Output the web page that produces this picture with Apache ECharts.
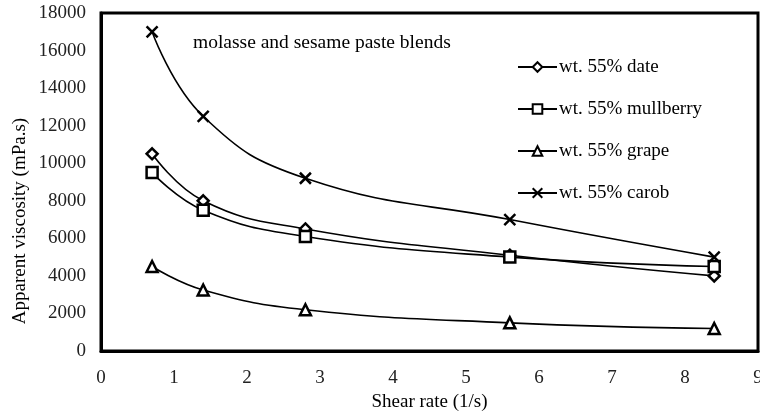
<!DOCTYPE html>
<html>
<head>
<meta charset="utf-8">
<script src="https://cdn.jsdelivr.net/npm/echarts@6/dist/echarts.min.js"></script>
<style>
  html, body { margin: 0; padding: 0; background: #fff; }
  #container { width: 760px; height: 412px; }
</style>
</head>
<body>
<div id="container"></div>
<script>
'use strict';
var shearRate = [0.7, 1.4, 2.8, 5.6, 8.4];
var seriesNames = ['wt. 55% date', 'wt. 55% mullberry', 'wt. 55% grape', 'wt. 55% carob'];
var dateVals = [10500, 8000, 6500, 5100, 4000];
var mullberryVals = [9500, 7500, 6100, 5000, 4500];
var grapeVals = [4500, 3250, 2200, 1500, 1200];
var carobVals = [17000, 12500, 9200, 7000, 5000];
var symbols = ['diamond', 'rect', 'triangle', 'path://M0,0L10,10M10,0L0,10'];
var symbolSizes = [11, 11, 11, 11];

var font = 'Liberation Serif';
var dom = document.getElementById('container');
var myChart = echarts.init(dom);

function pairs(vals) {
    return vals.map(function (v, i) { return [shearRate[i], v]; });
}

var allVals = [dateVals, mullberryVals, grapeVals, carobVals];
var series = allVals.map(function (vals, idx) {
    return {
        name: seriesNames[idx],
        type: 'line',
        smooth: 0.45,
        data: pairs(vals),
        symbol: symbols[idx],
        symbolSize: symbolSizes[idx],
        showAllSymbol: true,
        lineStyle: { color: '#000', width: 1.6 },
        itemStyle: { color: idx === 3 ? 'none' : '#fff', borderColor: '#000', borderWidth: 2.5 },
        emphasis: { disabled: true },
        z: 3
    };
});

var option = {
    animation: false,
    backgroundColor: '#fff',
    title: {
        text: 'molasse and sesame paste blends',
        left: 188,
        top: 28,
        textStyle: { fontFamily: font, fontSize: 19.5, fontWeight: 'normal', color: '#000' }
    },
    legend: {
        orient: 'vertical',
        left: 512,
        top: 52,
        itemWidth: 39,
        itemHeight: 12,
        itemGap: 22,
        data: seriesNames,
        textStyle: { fontFamily: font, fontSize: 19, lineHeight: 20, color: '#000', padding: [0, 0, 0, -3] }
    },
    grid: {
        left: 101,
        right: 2,
        top: 13,
        bottom: 61,
        show: true,
        borderColor: '#000',
        borderWidth: 3,
        containLabel: false,
        outerBoundsMode: 'none'
    },
    graphic: [{
        type: 'text',
        x: 20,
        y: 221,
        rotation: Math.PI / 2,
        style: {
            text: 'Apparent viscosity (mPa.s)',
            fontFamily: font,
            fontSize: 19,
            fill: '#000',
            align: 'center',
            verticalAlign: 'middle'
        }
    }],
    xAxis: {
        type: 'value',
        min: 0,
        max: 9,
        interval: 1,
        name: 'Shear rate (1/s)',
        nameLocation: 'middle',
        nameGap: 40,
        nameTextStyle: { fontFamily: font, fontSize: 19, color: '#000' },
        axisLine: { show: true, lineStyle: { color: '#000', width: 3 } },
        axisTick: { show: false },
        splitLine: { show: false },
        axisLabel: { fontFamily: font, fontSize: 19, color: '#222', margin: 18 }
    },
    yAxis: {
        type: 'value',
        min: 0,
        max: 18000,
        interval: 2000,
        axisLine: { show: true, lineStyle: { color: '#000', width: 3 } },
        axisTick: { show: false },
        splitLine: { show: false },
        axisLabel: {
            fontFamily: font, fontSize: 19, color: '#222', margin: 15,
            formatter: function (v) { return String(v); }
        }
    },
    series: series
};
myChart.setOption(option);
</script>
</body>
</html>
